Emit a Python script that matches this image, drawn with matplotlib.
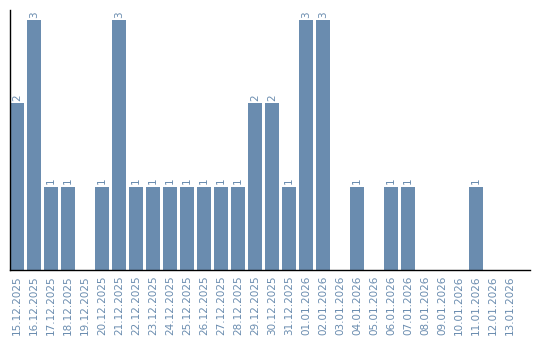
import matplotlib
matplotlib.use("Agg")
import matplotlib.pyplot as plt

dates = ["15.12.2025", "16.12.2025", "17.12.2025", "18.12.2025", "19.12.2025",
         "20.12.2025", "21.12.2025", "22.12.2025", "23.12.2025", "24.12.2025",
         "25.12.2025", "26.12.2025", "27.12.2025", "28.12.2025", "29.12.2025",
         "30.12.2025", "31.12.2025", "01.01.2026", "02.01.2026", "03.01.2026",
         "04.01.2026", "05.01.2026", "06.01.2026", "07.01.2026", "08.01.2026",
         "09.01.2026", "10.01.2026", "11.01.2026", "12.01.2026", "13.01.2026"]
counts = [2, 3, 1, 1, 0, 1, 3, 1, 1, 1, 1, 1, 1, 1, 2, 2, 1, 3, 3, 0,
          1, 0, 1, 1, 0, 0, 0, 1, 0, 0]

bar_color = "#6a8caf"
text_color = "#6a8caf"

fig = plt.figure(figsize=(5.4, 3.4), dpi=100)
ax = fig.add_axes([10/540, 70/340, 520/540, 260/340])
x = list(range(len(dates)))
ax.bar(x, counts, width=0.82, color=bar_color)
for xi, c in zip(x, counts):
    if c > 0:
        ax.text(xi, c + 0.03, str(c), rotation=90, ha="center", va="bottom",
                color=text_color, fontsize=7.5)
ax.set_xlim(-0.41, 30.18)
ax.set_ylim(0, 3.12)
ax.set_xticks(x)
ax.set_xticklabels(dates, rotation=90, color=text_color, fontsize=7.5)
ax.tick_params(axis="x", length=0, pad=4)
ax.set_yticks([])
for s in ["top", "right"]:
    ax.spines[s].set_visible(False)
ax.spines["left"].set_linewidth(1.0)
ax.spines["bottom"].set_linewidth(1.0)
fig.savefig("out.png", dpi=100)
